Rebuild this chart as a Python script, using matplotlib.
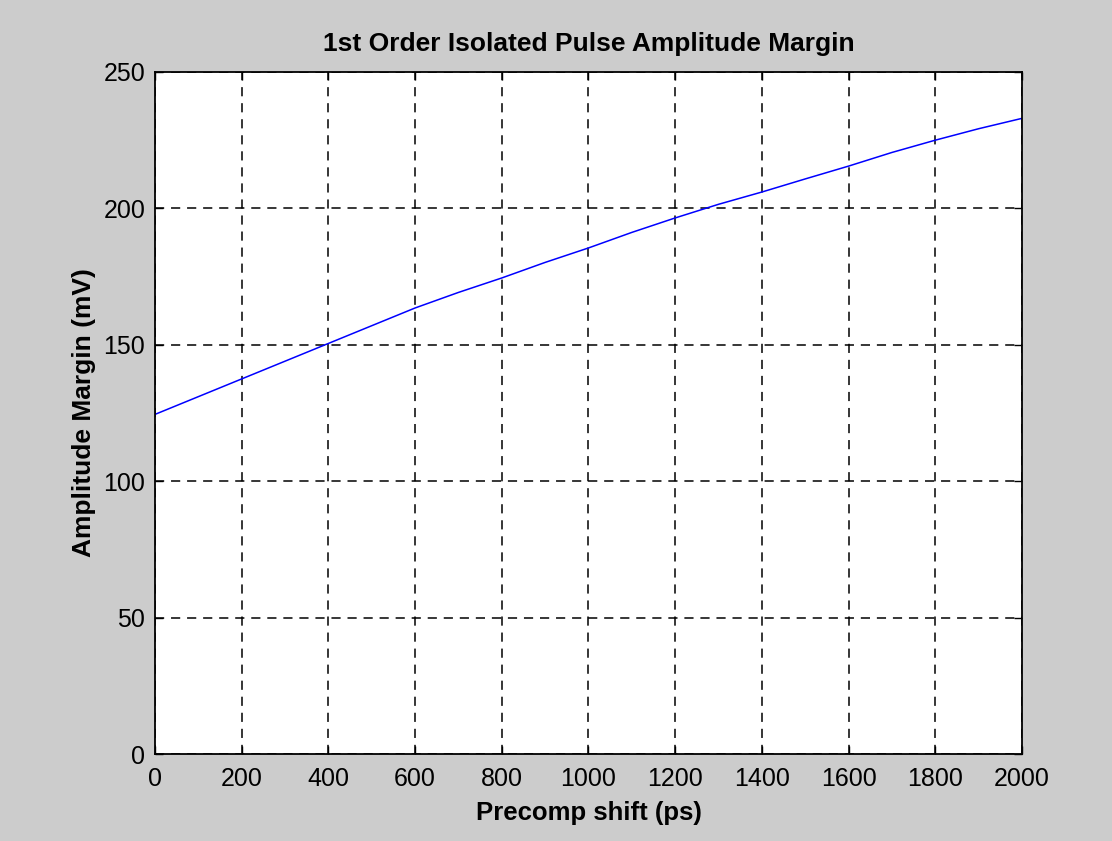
import matplotlib.pyplot as plt

# precompensation shift (ps) and amplitude margin (mV)
shift_ps = [0, 100, 200, 300, 400, 500, 600, 700, 800, 900, 1000,
            1100, 1200, 1300, 1400, 1500, 1600, 1700, 1800, 1900, 2000]
margin_mv = [124.5, 131.0, 137.5, 144.0, 150.5, 157.0, 163.5, 169.2, 174.5, 180.2, 185.5,
             191.2, 196.5, 201.5, 206.0, 210.8, 215.5, 220.5, 225.0, 229.2, 233.0]

x_ticks = list(range(0, 2001, 200))
y_ticks = list(range(0, 251, 50))

plt.rcParams['font.family'] = ['Liberation Sans', 'DejaVu Sans']

fig = plt.figure(figsize=(11.12, 8.41), dpi=100, facecolor='#cccccc')
ax = fig.add_axes([0.1394, 0.1034, 0.7796, 0.8110])
ax.set_facecolor('white')

ax.plot(shift_ps, margin_mv, color='#0000ff', linewidth=1.1)

ax.set_xlim(0, 2000)
ax.set_ylim(0, 250)
ax.set_xticks(x_ticks)
ax.set_yticks(y_ticks)
ax.tick_params(direction='in', length=6, width=1, labelsize=18,
               top=True, right=True, colors='black')
ax.tick_params(axis='x', pad=9.5)
ax.tick_params(axis='y', pad=7)
ax.grid(True, color='black', linestyle=(0, (6, 4.5)), linewidth=1.1)
for s in ax.spines.values():
    s.set_linewidth(1.3)

ax.set_title('1st Order Isolated Pulse Amplitude Margin', fontsize=19, fontweight='bold', pad=15)
ax.set_xlabel('Precomp shift (ps)', fontsize=18.5, fontweight='bold', labelpad=7)
ax.set_ylabel('Amplitude Margin (mV)', fontsize=19, fontweight='bold', labelpad=5)

fig.savefig('out.png', dpi=100, facecolor=fig.get_facecolor())
